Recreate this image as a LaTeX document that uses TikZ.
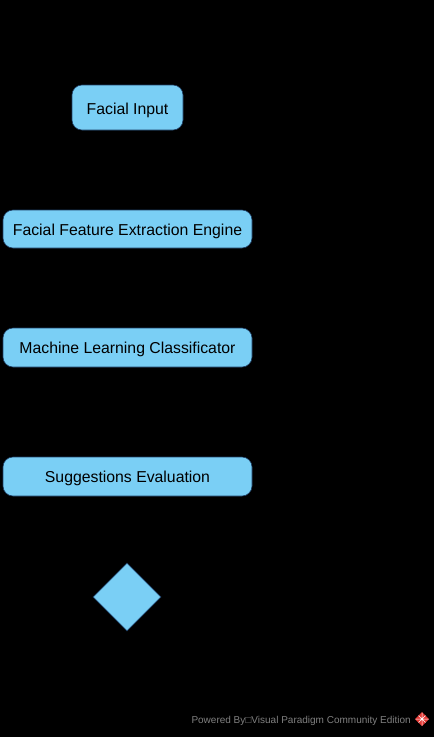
\documentclass[tikz,border=0pt]{standalone}
\usepackage{fontspec}
\setmainfont{Liberation Sans}
\usetikzlibrary{shapes.geometric}
\definecolor{boxfill}{HTML}{7ACFF5}
\definecolor{boxline}{HTML}{1F3F66}
\definecolor{vpgray}{HTML}{808080}
\definecolor{vpred}{HTML}{E53935}
\begin{document}
\begin{tikzpicture}[x=1pt,y=-1pt,
  actbox/.style={draw=boxline, line width=0.6pt, fill=boxfill, rounded corners=10pt},
  lbl/.style={font=\fontsize{15.8}{19}\selectfont, text=black, inner sep=0pt, anchor=base},
  dec/.style={draw=boxline, line width=0.6pt, fill=boxfill, diamond, minimum width=68pt, minimum height=68pt, inner sep=0pt},
  foot/.style={font=\fontsize{10}{12}\selectfont, text=vpgray, inner sep=0pt, anchor=base east}]
\fill[black] (0,0) rectangle (434,737);
\useasboundingbox (0,0) rectangle (434,737);
% boxes
\draw[actbox] (72,85) rectangle (183,130);
\node[lbl] (n1) at (127.5,114) {Facial Input};
\draw[actbox] (3,210) rectangle (252,248);
\node[lbl] (n2) at (127.5,235) {Facial Feature Extraction Engine};
\draw[actbox] (3,328) rectangle (252,367);
\node[lbl] (n3) at (127.5,353.5) {Machine Learning Classificator};
\draw[actbox] (3,457) rectangle (252,496);
\node[lbl] (n4) at (127.5,482.5) {Suggestions Evaluation};
\node[dec] (d1) at (127,597) {};
% footer
\node[foot] (ft) at (411,723) {Powered By□Visual Paradigm Community Edition};
\fill[vpred] (422,712) -- (429,719) -- (422,726) -- (415,719) -- cycle;
\draw[white, line width=0.5pt] (418.5,715.5) -- (425.5,722.5) (425.5,715.5) -- (418.5,722.5) (422,712.5) -- (422,725.5) (415.5,719) -- (428.5,719);
\end{tikzpicture}
\end{document}
